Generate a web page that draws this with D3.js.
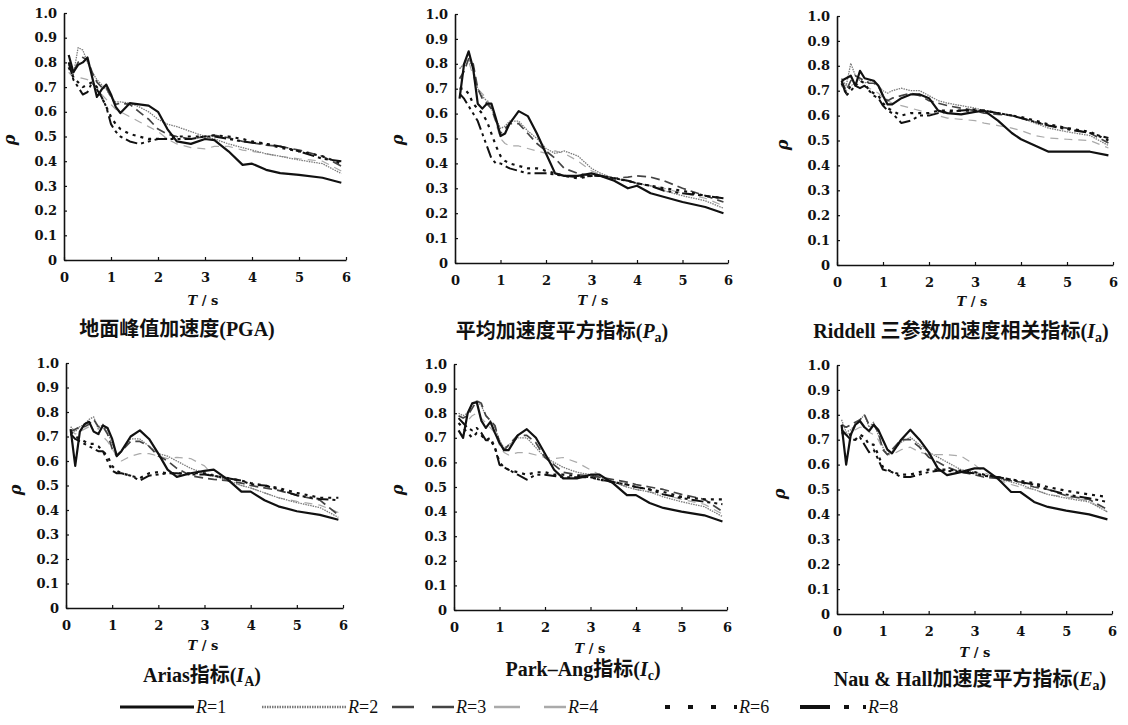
<!DOCTYPE html>
<html>
<head>
<meta charset="utf-8">
<script src="https://cdn.jsdelivr.net/npm/d3@7"></script>
<style>
  body { margin: 0; background: #fff; }
  svg, svg text { font-family: "Liberation Serif", "Times New Roman", "Noto Sans CJK SC", serif; fill: #111; }
</style>
</head>
<body>
<div id="chart"></div>
<script>
// Periods (s), shared by every curve
const T = [0.1,0.2,0.3,0.4,0.5,0.6,0.7,0.8,0.9,1.0,1.1,1.2,1.4,1.6,1.8,2.0,2.2,2.4,2.7,3.0,3.2,3.5,3.8,4.0,4.3,4.6,5.0,5.5,5.9];

const seriesNames = ["1", "2", "3", "4", "6", "8"];   // R = ...
const xTicks = [0, 1, 2, 3, 4, 5, 6];
const yTicks = [0, 0.1, 0.2, 0.3, 0.4, 0.5, 0.6, 0.7, 0.8, 0.9, 1.0];
const yTickLabels = ["0", "0.1", "0.2", "0.3", "0.4", "0.5", "0.6", "0.7", "0.8", "0.9", "1.0"];

// rho per series, order R=1,2,3,4,6,8
const pgaRho = [
  [0.83,0.76,0.79,0.80,0.82,0.74,0.66,0.69,0.71,0.67,0.62,0.595,0.635,0.63,0.625,0.60,0.53,0.48,0.47,0.49,0.485,0.44,0.385,0.39,0.365,0.352,0.345,0.333,0.313],
  [0.79,0.75,0.86,0.85,0.80,0.76,0.73,0.71,0.69,0.66,0.64,0.64,0.635,0.62,0.60,0.57,0.55,0.54,0.52,0.50,0.49,0.47,0.455,0.445,0.43,0.42,0.405,0.39,0.35],
  [0.80,0.76,0.80,0.82,0.81,0.76,0.72,0.70,0.70,0.66,0.63,0.635,0.63,0.60,0.57,0.53,0.51,0.50,0.49,0.50,0.505,0.495,0.48,0.475,0.465,0.46,0.445,0.42,0.38],
  [0.76,0.74,0.74,0.735,0.73,0.72,0.70,0.67,0.65,0.63,0.61,0.60,0.58,0.56,0.54,0.52,0.49,0.47,0.455,0.45,0.46,0.46,0.445,0.44,0.43,0.42,0.41,0.40,0.36],
  [0.78,0.74,0.72,0.70,0.71,0.72,0.70,0.66,0.62,0.58,0.55,0.53,0.51,0.50,0.49,0.49,0.49,0.50,0.50,0.50,0.505,0.50,0.49,0.48,0.47,0.455,0.44,0.42,0.39],
  [0.80,0.73,0.70,0.67,0.68,0.72,0.69,0.66,0.62,0.55,0.52,0.50,0.48,0.47,0.48,0.49,0.49,0.49,0.49,0.50,0.50,0.49,0.48,0.475,0.47,0.46,0.44,0.41,0.40]
];
const paRho = [
  [0.66,0.80,0.85,0.78,0.64,0.62,0.64,0.64,0.58,0.51,0.52,0.56,0.61,0.59,0.52,0.44,0.36,0.35,0.35,0.36,0.35,0.33,0.30,0.31,0.28,0.265,0.245,0.225,0.20],
  [0.78,0.80,0.82,0.78,0.70,0.67,0.65,0.62,0.58,0.54,0.55,0.57,0.57,0.53,0.50,0.46,0.44,0.45,0.43,0.38,0.36,0.34,0.33,0.32,0.31,0.29,0.27,0.25,0.22],
  [0.74,0.77,0.82,0.80,0.70,0.66,0.64,0.62,0.57,0.52,0.54,0.56,0.56,0.52,0.48,0.45,0.42,0.38,0.36,0.35,0.35,0.34,0.345,0.35,0.345,0.33,0.30,0.27,0.245],
  [0.78,0.80,0.81,0.75,0.70,0.68,0.66,0.62,0.56,0.50,0.48,0.47,0.47,0.46,0.45,0.44,0.45,0.44,0.41,0.37,0.355,0.34,0.33,0.32,0.31,0.30,0.28,0.26,0.23],
  [0.70,0.70,0.68,0.64,0.62,0.60,0.57,0.52,0.47,0.43,0.41,0.40,0.39,0.38,0.38,0.37,0.36,0.35,0.34,0.35,0.35,0.34,0.33,0.32,0.31,0.30,0.29,0.27,0.26],
  [0.68,0.66,0.63,0.60,0.57,0.52,0.47,0.42,0.40,0.40,0.39,0.38,0.37,0.36,0.36,0.36,0.355,0.35,0.345,0.35,0.35,0.34,0.33,0.32,0.31,0.29,0.28,0.27,0.26]
];
const riddellRho = [
  [0.74,0.75,0.76,0.72,0.78,0.75,0.745,0.74,0.72,0.68,0.645,0.645,0.67,0.685,0.685,0.67,0.62,0.61,0.605,0.615,0.62,0.58,0.53,0.505,0.48,0.455,0.455,0.455,0.44],
  [0.75,0.72,0.81,0.76,0.74,0.73,0.74,0.74,0.72,0.70,0.69,0.70,0.71,0.70,0.70,0.68,0.66,0.65,0.64,0.63,0.62,0.61,0.60,0.59,0.57,0.55,0.535,0.52,0.48],
  [0.74,0.70,0.74,0.76,0.75,0.74,0.73,0.73,0.72,0.68,0.66,0.67,0.68,0.69,0.68,0.66,0.65,0.64,0.63,0.62,0.61,0.605,0.60,0.59,0.575,0.56,0.55,0.53,0.49],
  [0.72,0.70,0.72,0.73,0.72,0.72,0.71,0.70,0.69,0.67,0.66,0.65,0.64,0.63,0.62,0.61,0.60,0.59,0.585,0.58,0.57,0.56,0.55,0.54,0.52,0.51,0.505,0.50,0.47],
  [0.73,0.69,0.72,0.72,0.74,0.73,0.70,0.69,0.68,0.65,0.63,0.62,0.60,0.61,0.61,0.61,0.62,0.62,0.62,0.62,0.62,0.61,0.60,0.595,0.58,0.565,0.55,0.535,0.50],
  [0.74,0.68,0.70,0.72,0.71,0.72,0.70,0.68,0.67,0.64,0.62,0.61,0.57,0.58,0.60,0.60,0.61,0.615,0.62,0.625,0.62,0.61,0.60,0.59,0.575,0.56,0.545,0.53,0.51]
];
const ariasRho = [
  [0.73,0.58,0.72,0.75,0.76,0.72,0.71,0.745,0.735,0.69,0.62,0.64,0.70,0.725,0.69,0.63,0.565,0.535,0.55,0.56,0.565,0.525,0.475,0.475,0.44,0.415,0.395,0.38,0.36],
  [0.74,0.72,0.74,0.75,0.77,0.78,0.73,0.75,0.72,0.67,0.63,0.64,0.69,0.69,0.66,0.63,0.62,0.60,0.57,0.55,0.54,0.52,0.50,0.49,0.47,0.45,0.43,0.41,0.37],
  [0.72,0.73,0.74,0.74,0.75,0.77,0.74,0.74,0.71,0.65,0.62,0.64,0.68,0.68,0.66,0.62,0.60,0.57,0.54,0.53,0.525,0.52,0.51,0.50,0.49,0.48,0.46,0.44,0.38],
  [0.73,0.71,0.72,0.73,0.74,0.72,0.71,0.70,0.68,0.65,0.62,0.60,0.62,0.63,0.63,0.62,0.61,0.615,0.61,0.58,0.54,0.52,0.50,0.49,0.47,0.45,0.435,0.42,0.39],
  [0.72,0.70,0.69,0.68,0.67,0.67,0.66,0.64,0.62,0.58,0.56,0.55,0.54,0.53,0.55,0.555,0.55,0.55,0.55,0.55,0.54,0.53,0.52,0.51,0.50,0.49,0.47,0.45,0.45],
  [0.71,0.69,0.68,0.67,0.66,0.65,0.64,0.64,0.60,0.56,0.55,0.55,0.54,0.52,0.54,0.545,0.55,0.55,0.545,0.545,0.54,0.53,0.52,0.505,0.50,0.485,0.46,0.445,0.44]
];
const parkAngRho = [
  [0.73,0.70,0.80,0.84,0.845,0.77,0.74,0.765,0.72,0.68,0.65,0.65,0.71,0.735,0.70,0.635,0.57,0.535,0.535,0.55,0.55,0.515,0.467,0.467,0.435,0.415,0.40,0.385,0.36],
  [0.80,0.79,0.80,0.84,0.85,0.83,0.79,0.77,0.74,0.69,0.66,0.67,0.70,0.70,0.66,0.62,0.60,0.58,0.56,0.55,0.54,0.52,0.50,0.49,0.48,0.46,0.44,0.42,0.38],
  [0.79,0.78,0.79,0.82,0.85,0.84,0.79,0.77,0.75,0.68,0.65,0.67,0.71,0.71,0.68,0.62,0.59,0.56,0.55,0.545,0.54,0.53,0.52,0.51,0.50,0.49,0.47,0.45,0.40],
  [0.78,0.76,0.77,0.79,0.80,0.78,0.76,0.74,0.72,0.67,0.64,0.63,0.64,0.64,0.63,0.62,0.615,0.62,0.60,0.57,0.55,0.52,0.50,0.49,0.48,0.47,0.45,0.43,0.39],
  [0.76,0.74,0.72,0.70,0.72,0.71,0.69,0.70,0.66,0.60,0.58,0.57,0.56,0.55,0.56,0.56,0.55,0.55,0.545,0.54,0.53,0.52,0.51,0.50,0.49,0.48,0.46,0.45,0.45],
  [0.78,0.76,0.74,0.73,0.74,0.72,0.69,0.69,0.66,0.59,0.58,0.57,0.55,0.53,0.55,0.55,0.545,0.54,0.54,0.54,0.53,0.52,0.51,0.50,0.49,0.47,0.455,0.44,0.43]
];
const nauHallRho = [
  [0.76,0.60,0.72,0.76,0.775,0.75,0.735,0.76,0.74,0.70,0.66,0.645,0.70,0.74,0.70,0.65,0.585,0.558,0.57,0.585,0.585,0.545,0.49,0.49,0.45,0.43,0.415,0.40,0.38],
  [0.78,0.73,0.74,0.76,0.78,0.80,0.75,0.77,0.72,0.67,0.64,0.65,0.69,0.71,0.68,0.65,0.63,0.61,0.58,0.57,0.56,0.545,0.53,0.52,0.50,0.48,0.465,0.45,0.41],
  [0.76,0.75,0.76,0.77,0.78,0.80,0.76,0.76,0.73,0.66,0.64,0.66,0.70,0.70,0.67,0.63,0.61,0.59,0.57,0.56,0.55,0.545,0.535,0.53,0.51,0.50,0.475,0.46,0.42],
  [0.72,0.72,0.73,0.74,0.75,0.75,0.73,0.72,0.70,0.66,0.64,0.64,0.66,0.67,0.65,0.64,0.64,0.64,0.635,0.60,0.57,0.54,0.52,0.51,0.50,0.48,0.47,0.455,0.41],
  [0.73,0.72,0.72,0.70,0.72,0.71,0.68,0.68,0.64,0.59,0.58,0.57,0.56,0.56,0.57,0.58,0.58,0.58,0.575,0.57,0.56,0.55,0.54,0.535,0.525,0.51,0.495,0.48,0.47],
  [0.74,0.72,0.70,0.70,0.71,0.68,0.65,0.66,0.62,0.58,0.575,0.57,0.55,0.55,0.56,0.57,0.575,0.575,0.57,0.565,0.555,0.55,0.54,0.53,0.52,0.50,0.48,0.465,0.45]
];

// titles: [text, kind] segments; kind "i" italic, "sub" subscript
const panelTitles = [
  [["地面峰值加速度(PGA)"]],
  [["平均加速度平方指标("], ["P", "i"], ["a", "sub"], [")"]],
  [["Riddell 三参数加速度相关指标("], ["I", "i"], ["a", "sub"], [")"]],
  [["Arias指标("], ["I", "i"], ["A", "sub"], [")"]],
  [["Park–Ang指标("], ["I", "i"], ["c", "sub"], [")"]],
  [["Nau & Hall加速度平方指标("], ["E", "i"], ["a", "sub"], [")"]]
];
const panelData = [pgaRho, paRho, riddellRho, ariasRho, parkAngRho, nauHallRho];

// layout of each small chart (pixel boxes of the scanned figure)
const panelBoxes = [
  { x0: 64,  x6: 346,  y0: 260, y1: 13,  rho: [15, 140],  ts: [203, 305], title: [177, 336] },
  { x0: 455, x6: 728,  y0: 263, y1: 14,  rho: [403, 140], ts: [593, 305], title: [562, 338] },
  { x0: 837, x6: 1113, y0: 265, y1: 16,  rho: [788, 145], ts: [972, 306], title: [961, 338] },
  { x0: 66,  x6: 343,  y0: 608, y1: 363, rho: [21, 490],  ts: [203, 650], title: [202, 682] },
  { x0: 454, x6: 727,  y0: 610, y1: 364, rho: [403, 490], ts: [590, 653], title: [583, 676] },
  { x0: 837, x6: 1112, y0: 614, y1: 365, rho: [785, 494], ts: [975, 657], title: [970, 686] }
];

// series styles, R=1,2,3,4,6,8
const styles = [
  { color: "#111", width: 2.2, dash: null,          legendDash: null },
  { color: "#7a7a7a", width: 1.3, dash: "1.5,1",   legendDash: "1.5,1" },
  { color: "#444", width: 1.7, dash: "9,5",         legendDash: "22,18" },
  { color: "#aaa", width: 1.2, dash: "8,6",         legendDash: "26,24" },
  { color: "#111", width: 2.2, dash: "3,5",         legendDash: "5,18" },
  { color: "#111", width: 2.0, dash: "12,4,3,4,3,4", legendDash: "30,14,5,14,5,14" }
];
const legendSpots = [[120, 194], [262, 346], [392, 454], [494, 566], [665, 737], [800, 866]];

const numFont = "'DejaVu Serif', serif";

const width = 1128, height = 725;
const svg = d3.select("#chart").append("svg")
  .attr("width", width).attr("height", height);

function writeParts(textSel, parts) {
  parts.forEach(([str, kind]) => {
    const ts = textSel.append("tspan").text(str);
    if (kind === "i") ts.style("font-style", "italic");
    if (kind === "sub") ts.attr("baseline-shift", "-25%").style("font-size", "70%");
  });
}

panelBoxes.forEach((b, p) => {
  const x = d3.scaleLinear().domain([0, 6]).range([b.x0, b.x6]);
  const y = d3.scaleLinear().domain([0, 1]).range([b.y0, b.y1]);
  const g = svg.append("g");

  // axes
  const yAxis = g.append("g")
    .attr("transform", `translate(${b.x0},0)`)
    .call(d3.axisLeft(y).tickValues(yTicks).tickSizeInner(-3).tickSizeOuter(0).tickPadding(7)
      .tickFormat((d, i) => yTickLabels[i]));
  const xAxis = g.append("g")
    .attr("transform", `translate(0,${b.y0})`)
    .call(d3.axisBottom(x).tickValues(xTicks).tickSizeInner(-3).tickSizeOuter(0).tickPadding(13)
      .tickFormat(d3.format("d")));
  [yAxis, xAxis].forEach(a => {
    a.attr("font-family", null).attr("font-size", null);
    a.select(".domain").attr("stroke", "#111").attr("stroke-width", 1.6);
    a.selectAll(".tick line").attr("stroke", "#111").attr("stroke-width", 1.2);
    a.selectAll(".tick text")
      .style("font-family", numFont)
      .style("font-size", "13px").style("font-weight", "bold").attr("fill", "#111");
  });

  // curves, R=1 drawn last so it sits on top
  const line = d3.line()
    .defined(d => d.v != null)
    .x(d => x(d.t)).y(d => y(d.v));
  const order = [3, 1, 2, 4, 5, 0];
  order.forEach(s => {
    const pts = T.map((t, i) => ({ t, v: panelData[p][s][i] }));
    g.append("path")
      .datum(pts)
      .attr("d", line)
      .attr("fill", "none")
      .attr("stroke", styles[s].color)
      .attr("stroke-width", styles[s].width)
      .attr("stroke-dasharray", styles[s].dash)
      .attr("stroke-linejoin", "round");
  });

  // axis labels
  g.append("text")
    .attr("transform", `translate(${b.rho[0]},${b.rho[1]}) rotate(-90)`)
    .attr("text-anchor", "middle")
    .style("font-family", numFont)
    .style("font-style", "italic").style("font-size", "16px").style("font-weight", "bold")
    .text("ρ");
  const tl = g.append("text")
    .attr("x", b.ts[0]).attr("y", b.ts[1])
    .attr("text-anchor", "middle")
    .style("font-family", numFont)
    .style("font-size", "13px").style("font-weight", "bold");
  writeParts(tl, [["T", "i"], [" / s"]]);

  const title = g.append("text")
    .attr("x", b.title[0]).attr("y", b.title[1])
    .attr("text-anchor", "middle")
    .style("font-size", "20px").style("font-weight", "bold");
  writeParts(title, panelTitles[p]);
});

// legend
const legend = svg.append("g");
seriesNames.forEach((name, s) => {
  const [a, c] = legendSpots[s];
  legend.append("line")
    .attr("x1", a).attr("x2", c).attr("y1", 707).attr("y2", 707)
    .attr("stroke", styles[s].color)
    .attr("stroke-width", s === 0 ? 3 : (s === 4 || s === 5 ? 4 : 2.5))
    .attr("stroke-dasharray", styles[s].legendDash);
  const t = legend.append("text")
    .attr("x", c + 2).attr("y", 713)
    .style("font-size", "18px");
  writeParts(t, [["R", "i"], ["=" + name]]);
});
</script>
</body>
</html>
